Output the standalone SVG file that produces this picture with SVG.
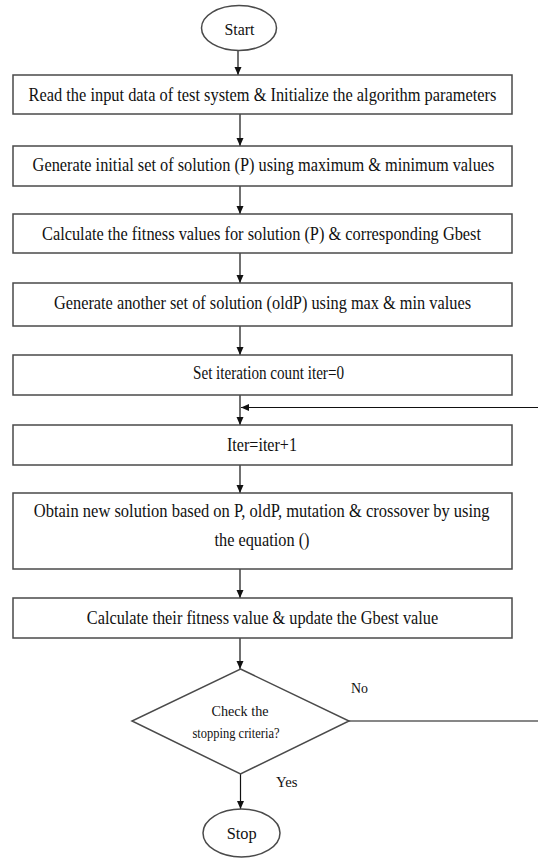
<svg xmlns="http://www.w3.org/2000/svg" width="538" height="861" viewBox="0 0 538 861">
<defs>
<style>
.box{fill:#fff;stroke:#4a4a4a;stroke-width:1.5}
.t{font-family:"Liberation Serif","Times New Roman",serif;font-size:18px;fill:#111;text-anchor:middle}
.s{font-family:"Liberation Serif","Times New Roman",serif;font-size:14px;fill:#111;text-anchor:middle}
.m{font-family:"Liberation Serif","Times New Roman",serif;font-size:15px;fill:#111}
.c{fill:none;stroke:#111;stroke-width:1.2}
</style>
<marker id="ah" markerUnits="userSpaceOnUse" markerWidth="8" markerHeight="8" refX="8" refY="3.5" orient="auto">
<path d="M0,0 L8,3.5 L0,7 z" fill="#111"/>
</marker>
</defs>
<rect width="538" height="861" fill="#fff"/>
<g id="connectors">
<line class="c" x1="238" y1="50" x2="238" y2="75" marker-end="url(#ah)"/>
<line class="c" x1="240" y1="114" x2="240" y2="146" marker-end="url(#ah)"/>
<line class="c" x1="240" y1="186" x2="240" y2="214" marker-end="url(#ah)"/>
<line class="c" x1="240" y1="253" x2="240" y2="283" marker-end="url(#ah)"/>
<line class="c" x1="240" y1="326" x2="240" y2="355" marker-end="url(#ah)"/>
<line class="c" x1="240" y1="395" x2="240" y2="425" marker-end="url(#ah)"/>
<line class="c" x1="240" y1="465" x2="240" y2="493" marker-end="url(#ah)"/>
<line class="c" x1="240" y1="569" x2="240" y2="598" marker-end="url(#ah)"/>
<line class="c" x1="240" y1="638" x2="240" y2="669" marker-end="url(#ah)"/>
<line class="c" x1="240.5" y1="774" x2="240.5" y2="809" marker-end="url(#ah)"/>
<path class="c" d="M349,721 H545 V407.5 H241" stroke="#444" marker-end="url(#ah)"/>
<text class="m" x="351" y="693" textLength="17" lengthAdjust="spacingAndGlyphs">No</text>
<text class="m" x="276" y="787" textLength="21.5" lengthAdjust="spacingAndGlyphs">Yes</text>
</g>
<g id="start">
<ellipse class="box" cx="239" cy="28" rx="37.5" ry="22.5"/>
<text class="m" x="239.5" y="35" text-anchor="middle" textLength="30" lengthAdjust="spacingAndGlyphs" style="font-size:16px">Start</text>
</g>
<g id="read">
<rect class="box" x="13" y="75" width="499" height="39"/>
<text class="t" transform="translate(262.5,100.5) scale(0.86,1)" textLength="544" lengthAdjust="spacingAndGlyphs">Read the input data of test system &amp; Initialize the algorithm parameters</text>
</g>
<g id="generate-initial">
<rect class="box" x="13" y="146" width="499" height="40"/>
<text class="t" transform="translate(263.5,171) scale(0.86,1)" textLength="537" lengthAdjust="spacingAndGlyphs">Generate initial set of solution (P) using maximum &amp; minimum values</text>
</g>
<g id="calc-fitness">
<rect class="box" x="13" y="214" width="499" height="39"/>
<text class="t" transform="translate(261.5,239.5) scale(0.86,1)" textLength="510.5" lengthAdjust="spacingAndGlyphs">Calculate the fitness values for solution (P) &amp; corresponding Gbest</text>
</g>
<g id="generate-oldp">
<rect class="box" x="13" y="283" width="499" height="43"/>
<text class="t" transform="translate(262.5,308.5) scale(0.86,1)" textLength="485" lengthAdjust="spacingAndGlyphs">Generate another set of solution (oldP) using max &amp; min values</text>
</g>
<g id="set-iter">
<rect class="box" x="13" y="355" width="499" height="40"/>
<text class="t" transform="translate(268.5,379) scale(0.86,1)" textLength="175.6" lengthAdjust="spacingAndGlyphs">Set iteration count iter=0</text>
</g>
<g id="iter-inc">
<rect class="box" x="13" y="425" width="499" height="40"/>
<text class="t" transform="translate(262,451) scale(0.86,1)" textLength="81.4" lengthAdjust="spacingAndGlyphs">Iter=iter+1</text>
</g>
<g id="obtain">
<rect class="box" x="13" y="493" width="499" height="76"/>
<text class="t" transform="translate(261.7,517) scale(0.86,1)" textLength="530" lengthAdjust="spacingAndGlyphs">Obtain new solution based on P, oldP, mutation &amp; crossover by using</text>
<text class="t" transform="translate(262,545.5) scale(0.86,1)" textLength="110.5" lengthAdjust="spacingAndGlyphs">the equation ()</text>
</g>
<g id="calc-their">
<rect class="box" x="13" y="598" width="499" height="40"/>
<text class="t" transform="translate(262.5,623.5) scale(0.86,1)" textLength="408.7" lengthAdjust="spacingAndGlyphs">Calculate their fitness value &amp; update the Gbest value</text>
</g>
<g id="check">
<polygon class="box" points="240.5,669 349,721 240.5,774 132,721"/>
<text class="s" x="240" y="716" textLength="57" lengthAdjust="spacingAndGlyphs">Check the</text>
<text class="s" x="236" y="737.5" textLength="87" lengthAdjust="spacingAndGlyphs">stopping criteria?</text>
</g>
<g id="stop">
<ellipse class="box" cx="241.5" cy="833" rx="38.5" ry="24"/>
<text class="m" x="241.7" y="839" text-anchor="middle" textLength="30" lengthAdjust="spacingAndGlyphs" style="font-size:16px">Stop</text>
</g>
</svg>
